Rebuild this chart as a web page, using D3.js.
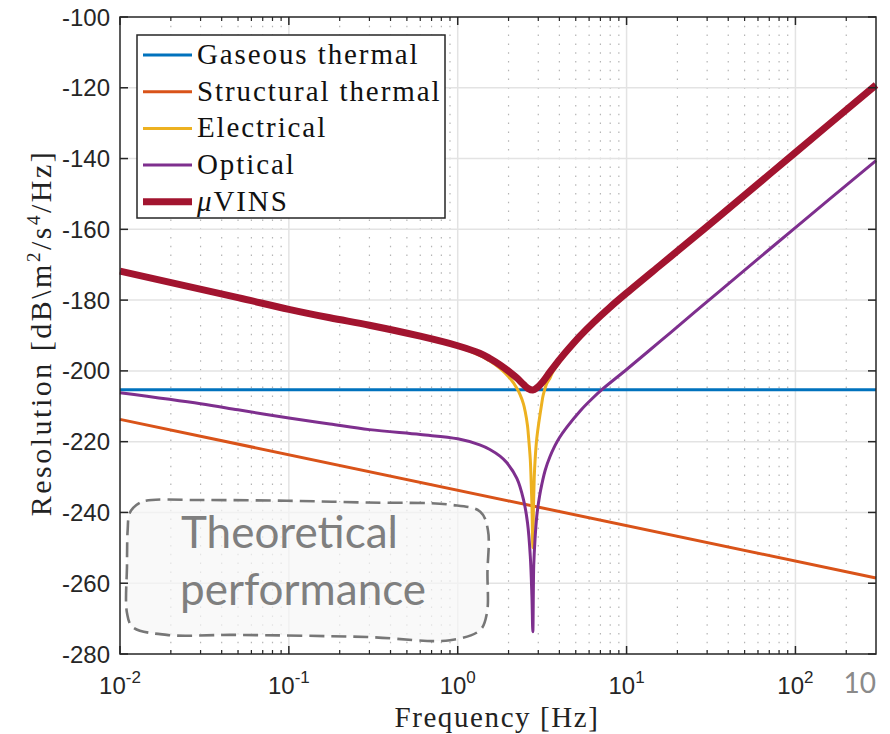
<!DOCTYPE html>
<html>
<head>
<meta charset="utf-8">
<script src="https://cdn.jsdelivr.net/npm/d3@7"></script>
<style>
    body { margin: 0; background: #fff; }
    svg text { font-family: "Liberation Sans", Arial, sans-serif; }
    .serif { font-family: "Liberation Serif", "Times New Roman", serif !important; }
</style>
</head>
<body>
<div id="chart-area"></div>
<script>
// values, frequency in Hz and level in dB
var gasFreq = [0.01, 300];
var gasDb = [-205.3, -205.3];

var structFreq = [0.01, 300];
var structDb = [-213.7, -258.5];

var elecFreq = [0.01, 0.05, 0.1, 0.3, 0.6, 1, 1.35, 1.55, 1.78, 2.04, 2.24, 2.34, 2.45, 2.51, 2.59, 2.62, 2.69, 2.71,
    2.754, 2.785, 2.81, 2.84, 2.87, 2.94, 3.15, 3.21, 3.37, 3.52, 3.61, 3.86, 4.04, 4.47, 5.31, 6.37, 7.94, 10, 15.85, 24.9, 35.9, 100, 300];
var elecDb = [-171.9, -179.4, -182.7, -187.3, -190.5, -193.2, -195.6, -197.2, -199.3, -202.1, -204.9, -206.7, -209.3, -211.5, -215.5, -218, -225, -228.5,
    -239, -250, -238, -230, -225.5, -219, -209, -206.8, -203.5, -202, -200.8, -198.6, -197.3, -194.6, -190.4, -186.5, -182.2, -178.1, -170.2, -162.5, -156.2, -138.4, -119.3];

var optFreq = [0.01, 0.03, 0.05, 0.1, 0.175, 0.3, 0.6, 1, 1.35, 1.55, 1.78, 1.95, 2.24, 2.45, 2.59, 2.69, 2.75, 2.785,
    2.82, 2.87, 2.94, 3.05, 3.15, 3.3, 3.52, 3.76, 4.0, 4.43, 5.31, 6.2, 7.14, 10, 15.85, 24.9, 35.9, 100, 300];
var optDb = [-206.2, -209.3, -211.0, -213.3, -215.0, -216.6, -218.0, -219.2, -220.9, -222.2, -224.1, -225.9, -230.4, -236.3, -242.9, -252.3, -263.6, -273.7,
    -255, -247.5, -241, -235.5, -232, -228, -224.2, -221.2, -218.9, -215.9, -211.3, -208, -205.3, -199.6, -191.6, -183.7, -177.3, -159.5, -140.6];

var vinsFreq = [0.01, 0.05, 0.1, 0.175, 0.3, 0.6, 1, 1.35, 1.55, 1.78, 2.04, 2.24, 2.45, 2.62, 2.785, 2.94, 3.21, 3.52,
    3.86, 4.04, 4.47, 5.31, 6.37, 7.94, 10, 15.85, 24.9, 35.9, 100, 300];
var vinsDb = [-171.8, -179.3, -182.6, -185, -187.1, -190.2, -192.9, -195.0, -196.5, -198.3, -200.4, -202.0, -203.8, -205.0, -205.4, -204.8, -202.9, -200.3,
    -197.8, -196.6, -194.1, -190.1, -186.3, -182.1, -178.0, -170.1, -162.4, -156.1, -138.3, -119.2];

var seriesNames = ["Gaseous thermal", "Structural thermal", "Electrical", "Optical", "VINS"];

var yTicks = [-280, -260, -240, -220, -200, -180, -160, -140, -120, -100];
var xTicks = [0.01, 0.1, 1, 10, 100];
var xTickExp = ["-2", "-1", "0", "1", "2"];

// outline of the "Theoretical performance" bubble, in the same Hz / dB units
var blobFreq = [0.0125, 0.0142, 0.0297, 0.0973, 0.29, 0.9, 1.36, 1.51, 1.5, 1.49, 1.36, 0.9, 0.29, 0.0466, 0.0189, 0.0119, 0.011, 0.011, 0.0111, 0.0114];
var blobDb = [-237.9, -236.7, -236.5, -236.7, -237.2, -237.8, -239.8, -245, -257, -268.4, -273.2, -276.1, -275.2, -274.6, -274.6, -272.4, -268.4, -255, -245, -240.2];

var width = 890, height = 734;
var pL = 120, pR = 876, pT = 17, pB = 654;

var svg = d3.select("#chart-area").append("svg")
    .attr("width", width)
    .attr("height", height);

var x = d3.scaleLog()
    .domain([0.01, 300])
    .range([pL, pR]);

var y = d3.scaleLinear()
    .domain([-280, -100])
    .range([pB, pT]);

// minor log ticks (2..9 per decade)
var minorTicks = x.ticks().filter(function(t){
    var m = t / Math.pow(10, Math.floor(Math.log10(t) + 1e-9));
    return Math.round(m) !== 1 && t < 300;
});

// grid
var grid = svg.append("g");
grid.selectAll(".vminor")
    .data(minorTicks)
    .enter()
    .append("line")
    .attr("x1", function(d){ return x(d); })
    .attr("x2", function(d){ return x(d); })
    .attr("y1", pT)
    .attr("y2", pB)
    .attr("stroke", "#b4b4b4")
    .attr("stroke-width", 1.2)
    .attr("stroke-dasharray", "1.5,7.3");

grid.selectAll(".vmajor")
    .data(xTicks.slice(1))
    .enter()
    .append("line")
    .attr("x1", function(d){ return x(d); })
    .attr("x2", function(d){ return x(d); })
    .attr("y1", pT)
    .attr("y2", pB)
    .attr("stroke", "#e3e3e3")
    .attr("stroke-width", 1.5);

grid.selectAll(".hmajor")
    .data(yTicks.slice(1, -1))
    .enter()
    .append("line")
    .attr("x1", pL)
    .attr("x2", pR)
    .attr("y1", function(d){ return y(d); })
    .attr("y2", function(d){ return y(d); })
    .attr("stroke", "#e3e3e3")
    .attr("stroke-width", 1.5);

// bubble annotation
var blobPts = blobFreq.map(function(f, i){ return [x(f), y(blobDb[i])]; });
svg.append("path")
    .attr("d", d3.line().curve(d3.curveCatmullRomClosed.alpha(0.5))(blobPts))
    .attr("fill", "#f6f6f6")
    .attr("fill-opacity", 0.7)
    .attr("stroke", "#777")
    .attr("stroke-width", 2.6)
    .attr("stroke-dasharray", "15,7");

svg.append("text")
    .attr("x", 181)
    .attr("y", 548)
    .style("font-family", "Lato, 'Open Sans', sans-serif")
    .attr("font-size", 44)
    .attr("fill", "#7f7f7f")
    .text("Theoretical");
svg.append("text")
    .attr("x", 180)
    .attr("y", 605)
    .style("font-family", "Lato, 'Open Sans', sans-serif")
    .attr("font-size", 44)
    .attr("fill", "#7f7f7f")
    .text("performance");

// curves
var series = [
    {f: gasFreq, v: gasDb, color: "#0072BD", w: 3},
    {f: structFreq, v: structDb, color: "#D95319", w: 3},
    {f: elecFreq, v: elecDb, color: "#EDB120", w: 3},
    {f: optFreq, v: optDb, color: "#7E2F8E", w: 3},
    {f: vinsFreq, v: vinsDb, color: "#A2142F", w: 7}
];

var line = d3.line()
    .x(function(d){ return x(d[0]); })
    .y(function(d){ return y(d[1]); })
    .curve(d3.curveCatmullRom.alpha(0.5));

svg.append("g").selectAll("path")
    .data(series)
    .enter()
    .append("path")
    .attr("d", function(s){
        return line(s.f.map(function(f, i){ return [f, s.v[i]]; }));
    })
    .attr("fill", "none")
    .attr("stroke", function(s){ return s.color; })
    .attr("stroke-width", function(s){ return s.w; })
    .attr("stroke-linejoin", "round");

// axes box and inward ticks
var axisCol = "#262626";
var ax = svg.append("g");
ax.append("rect")
    .attr("x", pL).attr("y", pT)
    .attr("width", pR - pL).attr("height", pB - pT)
    .attr("fill", "none")
    .attr("stroke", axisCol)
    .attr("stroke-width", 1.5);

[pB, pT].forEach(function(edge){
    var dir = edge === pB ? -1 : 1;
    ax.selectAll(null)
        .data(xTicks)
        .enter()
        .append("line")
        .attr("x1", function(d){ return x(d); })
        .attr("x2", function(d){ return x(d); })
        .attr("y1", edge)
        .attr("y2", edge + dir * 8)
        .attr("stroke", axisCol)
        .attr("stroke-width", 1.5);
    ax.selectAll(null)
        .data(minorTicks)
        .enter()
        .append("line")
        .attr("x1", function(d){ return x(d); })
        .attr("x2", function(d){ return x(d); })
        .attr("y1", edge)
        .attr("y2", edge + dir * 4)
        .attr("stroke", axisCol)
        .attr("stroke-width", 1.2);
});

[pL, pR].forEach(function(edge){
    var dir = edge === pL ? 1 : -1;
    ax.selectAll(null)
        .data(yTicks)
        .enter()
        .append("line")
        .attr("x1", edge)
        .attr("x2", edge + dir * 8)
        .attr("y1", function(d){ return y(d); })
        .attr("y2", function(d){ return y(d); })
        .attr("stroke", axisCol)
        .attr("stroke-width", 1.5);
});

// tick labels
ax.selectAll(".ylab")
    .data(yTicks)
    .enter()
    .append("text")
    .attr("x", 110)
    .attr("y", function(d){ return y(d) + 8.5; })
    .attr("text-anchor", "end")
    .attr("font-size", 24)
    .attr("fill", axisCol)
    .text(function(d){ return d; });

var xl = ax.selectAll(".xlab")
    .data(xTicks)
    .enter()
    .append("text")
    .attr("x", function(d){ return x(d); })
    .attr("y", 694)
    .attr("text-anchor", "middle")
    .attr("font-size", 24)
    .attr("fill", axisCol);
xl.append("tspan").text("10");
xl.append("tspan")
    .attr("dy", -11)
    .attr("font-size", 17)
    .text(function(d, i){ return xTickExp[i]; });

svg.append("text")
    .attr("x", 876)
    .attr("y", 693)
    .attr("text-anchor", "end")
    .style("font-family", "Lato, 'Open Sans', sans-serif")
    .attr("font-size", 28)
    .attr("fill", "#8a8a8a")
    .text("10");

// axis titles
svg.append("text")
    .attr("class", "serif")
    .attr("x", 497)
    .attr("y", 727)
    .attr("text-anchor", "middle")
    .attr("font-size", 29)
    .attr("letter-spacing", 1.6)
    .attr("fill", "#222")
    .text("Frequency [Hz]");

var yt = svg.append("text")
    .attr("class", "serif")
    .attr("transform", "translate(51,333) rotate(-90)")
    .attr("text-anchor", "middle")
    .attr("font-size", 30)
    .attr("letter-spacing", 2.5)
    .attr("fill", "#222");
yt.append("tspan").text("Resolution [dB\\m");
yt.append("tspan").attr("dy", -11).attr("font-size", 19).text("2");
yt.append("tspan").attr("dy", 11).text("/s");
yt.append("tspan").attr("dy", -11).attr("font-size", 19).text("4");
yt.append("tspan").attr("dy", 11).text("/Hz]");

// legend
var lg = svg.append("g");
lg.append("rect")
    .attr("x", 137).attr("y", 35)
    .attr("width", 308).attr("height", 183)
    .attr("fill", "#fff")
    .attr("stroke", axisCol)
    .attr("stroke-width", 1.5);

var rows = lg.selectAll(".row")
    .data(series)
    .enter()
    .append("g")
    .attr("transform", function(d, i){ return "translate(0," + (55 + i * 36.7) + ")"; });
rows.append("line")
    .attr("x1", 143).attr("x2", 192)
    .attr("stroke", function(d){ return d.color; })
    .attr("stroke-width", function(d){ return d.w; });
var rt = rows.append("text")
    .attr("class", "serif")
    .attr("x", 197)
    .attr("y", 9)
    .attr("font-size", 29)
    .attr("letter-spacing", 1.9)
    .attr("fill", "#111");
rt.each(function(d, i){
    var t = d3.select(this);
    if (i === 4) {
        t.append("tspan").attr("font-style", "italic").text("\u03BC");
        t.append("tspan").text(seriesNames[i]);
    } else {
        t.text(seriesNames[i]);
    }
});
</script>
</body>
</html>
